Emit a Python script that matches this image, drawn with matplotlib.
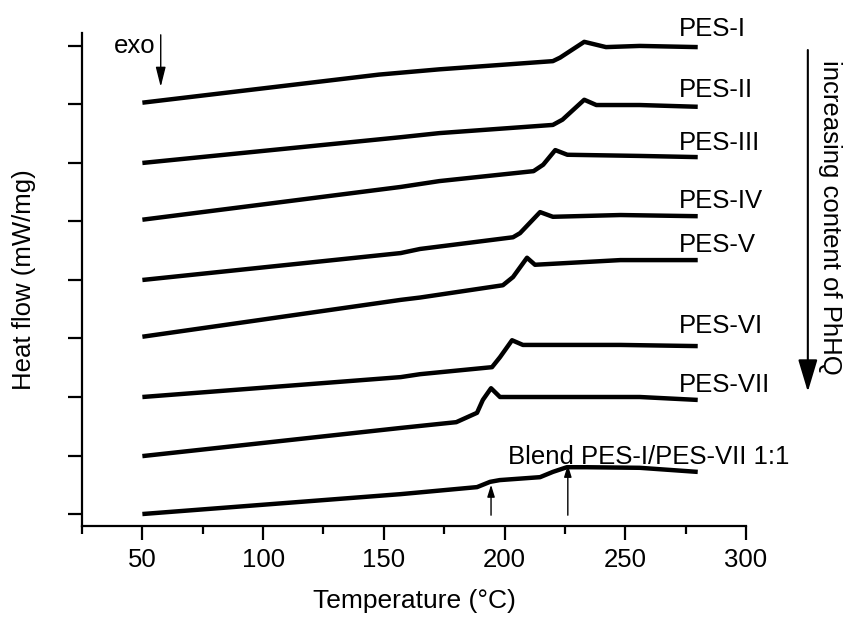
import matplotlib
matplotlib.use("Agg")
import matplotlib.pyplot as plt
from matplotlib.patches import ArrowStyle

plt.rcParams["font.family"] = ["Liberation Sans", "DejaVu Sans"]

# DSC traces (temperature in degC, heat flow offset in tick units)
pes1_t = [50, 148, 173, 220, 223, 233, 242, 256, 280]
pes1_v = [7.03, 7.51, 7.60, 7.74, 7.80, 8.07, 7.98, 8.00, 7.98]

pes2_t = [50, 157, 173, 220, 224, 233, 238, 256, 280]
pes2_v = [6.00, 6.44, 6.51, 6.65, 6.74, 7.08, 6.99, 6.99, 6.96]

pes3_t = [50, 157, 173, 212, 216, 221, 226, 256, 280]
pes3_v = [5.03, 5.59, 5.69, 5.86, 5.97, 6.22, 6.14, 6.12, 6.10]

pes4_t = [50, 157, 165, 203.5, 206.4, 214.7, 220, 248, 280]
pes4_v = [4.00, 4.46, 4.53, 4.73, 4.80, 5.16, 5.08, 5.11, 5.09]

pes5_t = [50, 157, 165, 199.3, 203.5, 209.3, 212.6, 248, 280]
pes5_v = [3.03, 3.66, 3.70, 3.91, 4.05, 4.38, 4.26, 4.34, 4.34]

pes6_t = [50, 157, 165, 194.8, 198.1, 203.1, 207.6, 248, 280]
pes6_v = [2.00, 2.34, 2.39, 2.51, 2.68, 2.97, 2.89, 2.89, 2.87]

pes7_t = [50, 156.7, 180, 188.6, 191.0, 194.4, 198.1, 256, 280]
pes7_v = [0.99, 1.47, 1.57, 1.73, 1.95, 2.15, 2.00, 2.00, 1.95]

blend_t = [50, 157, 188.6, 194, 198, 214.7, 220, 225.8, 234, 256, 280]
blend_v = [0.00, 0.34, 0.46, 0.55, 0.58, 0.63, 0.72, 0.80, 0.80, 0.79, 0.72]

labels = ["PES-I", "PES-II", "PES-III", "PES-IV", "PES-V", "PES-VI", "PES-VII",
          "Blend PES-I/PES-VII 1:1"]
label_t = [272.2, 272.2, 272.2, 272.2, 272.2, 272.2, 272.2, 201.3]
label_v = [8.17, 7.13, 6.22, 5.23, 4.48, 3.09, 2.09, 0.85]

# Tg markers on the blend curve
blend_tg = [194.4, 226.2]
blend_tg_v = [0.50, 0.84]

x_major = [50, 100, 150, 200, 250, 300]
x_minor = [25, 75, 125, 175, 225, 275]
y_ticks = [0, 1, 2, 3, 4, 5, 6, 7, 8]

fig = plt.figure(figsize=(8.49, 6.19), dpi=100)
ax = fig.add_axes([0.0966, 0.1502, 0.7821, 0.7964])

traces = [(pes1_t, pes1_v), (pes2_t, pes2_v), (pes3_t, pes3_v), (pes4_t, pes4_v),
          (pes5_t, pes5_v), (pes6_t, pes6_v), (pes7_t, pes7_v), (blend_t, blend_v)]
for t, v in traces:
    ax.plot(t, v, color="black", lw=3.2, solid_joinstyle="round", solid_capstyle="butt")

fs = 18.5
for lab, t, v in zip(labels, label_t, label_v):
    ax.text(t, v, lab, fontsize=fs, ha="left", va="baseline", clip_on=False)

for t, v in zip(blend_tg, blend_tg_v):
    ax.annotate("", xy=(t, v), xytext=(t, -0.02),
                arrowprops=dict(arrowstyle=ArrowStyle("-|>", head_length=0.9, head_width=0.28),
                                mutation_scale=8, lw=1.0, color="black",
                                shrinkA=0, shrinkB=0))

# exo marker
ax.text(38.2, 7.88, "exo", fontsize=fs, ha="left", va="baseline")
ax.annotate("", xy=(57.6, 7.30), xytext=(57.6, 8.19), annotation_clip=False,
            arrowprops=dict(arrowstyle=ArrowStyle("-|>", head_length=1.0, head_width=0.25),
                            mutation_scale=12, lw=1.0, color="black",
                            shrinkA=0, shrinkB=0))

# trend arrow on the right
ax.annotate("", xy=(325.6, 2.09), xytext=(325.6, 7.93), annotation_clip=False,
            arrowprops=dict(arrowstyle=ArrowStyle("-|>", head_length=1.0, head_width=0.3),
                            mutation_scale=20, lw=1.5, color="black",
                            shrinkA=0, shrinkB=0))
ax.text(334.6, 5.07, "increasing content of PhHQ", fontsize=18.5, rotation=-90,
        ha="center", va="center", clip_on=False)

ax.set_xlim(25, 300)
ax.set_ylim(-0.205, 8.22)
ax.set_xticks(x_major)
ax.set_xticks(x_minor, minor=True)
ax.set_yticks(y_ticks)
ax.set_yticklabels([])
ax.tick_params(axis="both", which="major", direction="out", length=10, width=1.6,
               labelsize=18.5, pad=6)
ax.tick_params(axis="x", which="minor", direction="out", length=5.5, width=1.6)

for side in ["top", "right"]:
    ax.spines[side].set_visible(False)
for side in ["left", "bottom"]:
    ax.spines[side].set_linewidth(1.6)

ax.set_xlabel("Temperature (\u00b0C)", fontsize=19)
ax.set_ylabel("Heat flow (mW/mg)", fontsize=18.5)
ax.xaxis.set_label_coords(0.5, -0.128)
ax.yaxis.set_label_coords(-0.069, 0.5)

fig.savefig("out.png", dpi=100)
plt.close(fig)
